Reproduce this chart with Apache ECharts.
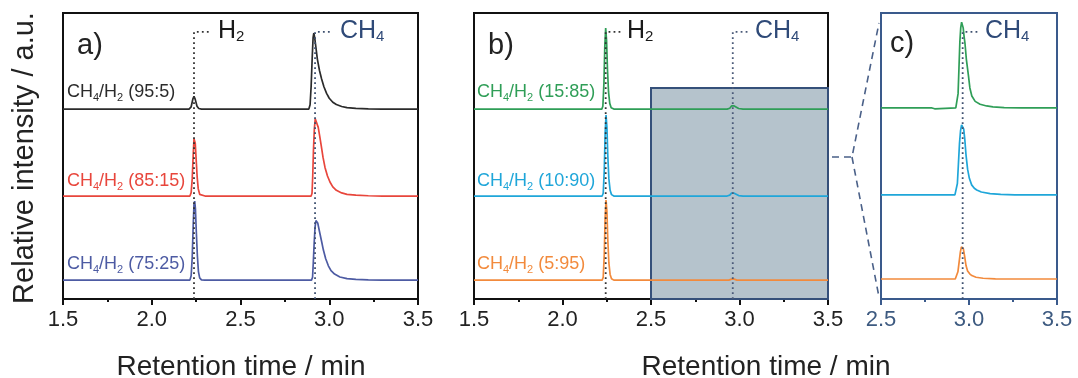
<!DOCTYPE html>
<html><head><meta charset="utf-8">
<script src="https://cdn.jsdelivr.net/npm/echarts@6/dist/echarts.min.js"></script>
<style>html,body{margin:0;padding:0;background:#fff}#c{width:1078px;height:378px}</style>
</head><body><div id="c"></div>
<script>
// ---------- DATA ----------
const xTicksAB = [1.5, 2.0, 2.5, 3.0, 3.5];
const xTicksC = [2.5, 3.0, 3.5];
const ratiosA = ['95:5', '85:15', '75:25'];
const ratiosB = ['15:85', '10:90', '5:95'];
const h2Times = [2.238, 2.244];          // panel a, b
const ch4Times = [2.92, 2.962, 2.964];   // panel a, b, c
const zoomWindow = [2.5, 3.5];

// Panel a  (retention time, relative intensity)
const trA_95_5 = [[1.5,0],[2.21,0],[2.222,0.8],[2.232,3.6],[2.238,4.5],[2.245,3.4],[2.255,1.0],[2.265,0.2],[2.28,0],
  [2.885,0],[2.892,1.5],[2.898,8],[2.904,18],[2.909,25],[2.913,26.6],[2.918,25],[2.925,21.5],[2.933,17.5],[2.945,13.5],
  [2.957,10.5],[2.97,7.8],[2.985,5.5],[3.0,3.8],[3.02,2.4],[3.04,1.6],[3.07,0.9],[3.1,0.5],[3.15,0.25],[3.22,0.1],[3.3,0],[3.5,0]];
const trA_85_15 = [[1.5,0],[2.215,0],[2.222,1.2],[2.228,6],[2.234,15],[2.238,20],[2.241,20.6],[2.245,18.5],[2.25,13],[2.256,6.5],
  [2.262,2.5],[2.27,0.6],[2.28,0.1],[2.3,0],
  [2.898,0],[2.903,1],[2.907,7],[2.911,16],[2.916,23.5],[2.921,27],[2.925,27.3],[2.93,26.4],[2.938,24],[2.946,21],[2.955,17.5],
  [2.965,13.5],[2.976,10],[2.99,7],[3.004,4.9],[3.02,3.2],[3.04,2.0],[3.07,1.1],[3.1,0.6],[3.15,0.3],[3.22,0.1],[3.3,0],[3.5,0]];
const trA_75_25 = [[1.5,0],[2.215,0],[2.222,1.5],[2.228,8],[2.234,20],[2.238,26.5],[2.242,27.6],[2.246,25],[2.251,17],[2.257,8.5],
  [2.263,3],[2.27,0.8],[2.28,0.1],[2.3,0],
  [2.9,0],[2.906,1],[2.91,6],[2.915,13],[2.92,18.5],[2.925,20.8],[2.929,21],[2.935,20],[2.945,17],[2.957,13.5],[2.967,10.5],
  [2.98,7.5],[2.995,5],[3.01,3.3],[3.03,2.1],[3.06,1.1],[3.1,0.5],[3.15,0.25],[3.22,0.1],[3.3,0],[3.5,0]];

// Panel b
const trB_15_85 = [[1.5,0],[2.222,0],[2.228,1],[2.234,9],[2.239,22],[2.244,28.3],[2.249,24],[2.254,14],[2.26,6],[2.267,2],[2.275,0.5],[2.29,0],
  [2.93,0],[2.945,0.3],[2.955,1.1],[2.962,1.4],[2.97,1.1],[2.98,0.6],[2.995,0.2],[3.02,0],[3.5,0]];
const trB_10_90 = [[1.5,0],[2.224,0],[2.23,1],[2.236,9],[2.241,22],[2.246,28.3],[2.251,24],[2.256,14],[2.262,6],[2.269,2],[2.277,0.5],[2.29,0],
  [2.93,0],[2.945,0.3],[2.955,1.0],[2.962,1.3],[2.97,1.0],[2.98,0.5],[2.995,0.15],[3.02,0],[3.5,0]];
const trB_5_95 = [[1.5,0],[2.224,0],[2.23,1],[2.236,9],[2.241,22],[2.246,28],[2.251,24],[2.256,14],[2.262,6],[2.269,2],[2.277,0.5],[2.29,0],
  [2.94,0],[2.955,0.35],[2.962,0.5],[2.97,0.35],[2.985,0],[3.5,0]];

// Panel c (zoom 2.5 - 3.5)
const trC_15_85 = [[2.5,0],[2.725,0],[2.73,0.6],[2.735,0],[2.79,0],[2.797,-0.5],[2.805,-0.3],[2.81,0],
  [2.925,0],[2.932,0.5],[2.938,5],[2.943,14],[2.948,23],[2.953,28],[2.958,30],[2.962,30.4],[2.967,28],[2.972,25],[2.977,22.7],
  [2.985,17],[2.997,11.2],[3.005,7],[3.016,4.2],[3.035,2.3],[3.063,1.3],[3.1,0.7],[3.136,0.35],[3.2,0.1],[3.3,0],[3.5,0]];
const trC_10_90 = [[2.5,0],[2.92,0],[2.928,0.5],[2.934,4],[2.94,11],[2.946,18],[2.952,22.5],[2.958,24.5],[2.965,25.1],[2.97,23],
  [2.976,19.5],[2.983,14],[2.992,9],[3.002,5.8],[3.015,3.5],[3.03,2.3],[3.044,1.7],[3.07,1.0],[3.12,0.45],[3.18,0.15],[3.26,0],[3.5,0]];
const trC_5_95 = [[2.5,0],[2.922,0],[2.93,0.5],[2.937,2.5],[2.944,6],[2.951,9.5],[2.957,11.2],[2.962,11.6],[2.968,10.5],[2.975,8],
  [2.983,4.7],[2.992,2.8],[3.004,1.8],[3.016,1.2],[3.04,0.6],[3.08,0.25],[3.15,0.05],[3.2,0],[3.5,0]];

// ---------- LAYOUT / STYLE ----------
const FONT = "'Liberation Sans', Arial, Helvetica, sans-serif";
const offsAB = [66.4, 36.0, 6.6];
const offsC = [66.8, 36.4, 7.0];
const markTop = 93.4;
const colA = ['#2b2b2b', '#e8463c', '#4d5ba3'];
const colB = ['#2f9e57', '#1fa6d9', '#f28a3c'];
const navy = '#2f4a78';
const cFrame = '#3a5a8c';

const grids = [
  {left: 63, top: 13, width: 355, height: 286},
  {left: 474, top: 13, width: 354, height: 286},
  {left: 881, top: 13, width: 176, height: 286}
];

function xAxisFor(i, min, max, color, labelColor) {
  return {
    type: 'value', gridIndex: i, min: min, max: max, interval: 0.5,
    axisLine: {show: true, onZero: false, lineStyle: {color: color, width: 2}},
    axisTick: {show: true, length: 6, lineStyle: {color: color, width: 2}},
    minorTick: {show: true, splitNumber: 2, length: 3, lineStyle: {color: color, width: 2}},
    splitLine: {show: false}, minorSplitLine: {show: false},
    axisLabel: {fontFamily: FONT, fontSize: 22, color: labelColor, margin: 10,
      formatter: v => v.toFixed(1), showMinLabel: true, showMaxLabel: true}
  };
}
function yAxisFor(i) {
  return {type: 'value', gridIndex: i, min: 0, max: 100, show: false};
}
function trace(data, off, color, gi) {
  return {type: 'line', xAxisIndex: gi, yAxisIndex: gi, data: data.map(p => [p[0], p[1] + off]),
    showSymbol: false, symbol: 'none', lineStyle: {color: color, width: 1.7}, z: 3, silent: true};
}
function marker(t, dx, color, gi) {
  return {type: 'line', xAxisIndex: gi, yAxisIndex: gi, data: [[t, 0], [t, markTop], [t + dx, markTop]],
    showSymbol: false, symbol: 'none', lineStyle: {color: color, width: 1.8, type: [1.8, 3.2]}, z: 4, silent: true};
}
function chemLabel(x, y, main, sub, color, size, subSize) {
  return {type: 'text', left: x, top: y - size * 0.55, z: 10,
    style: {text: `{m|${main}}{s|${sub}}`, rich: {
      m: {fontFamily: FONT, fontSize: size, fill: color, color: color, lineHeight: size * 1.1},
      s: {fontFamily: FONT, fontSize: subSize, fill: color, color: color, lineHeight: subSize, verticalAlign: 'bottom'}
    }}};
}
function mixLabel(x, y, ratio, color) {
  return {type: 'text', left: x, top: y - 11, z: 10,
    style: {text: `{m|CH}{s|4}{m|/H}{s|2}{m| (${ratio})}`, rich: {
      m: {fontFamily: FONT, fontSize: 18, fill: color, color: color, lineHeight: 22},
      s: {fontFamily: FONT, fontSize: 11, fill: color, color: color, lineHeight: 11, verticalAlign: 'bottom'}
    }}};
}

const series = [];
[trA_95_5, trA_85_15, trA_75_25].forEach((d, k) => series.push(trace(d, offsAB[k], colA[k], 0)));
[trB_15_85, trB_10_90, trB_5_95].forEach((d, k) => series.push(trace(d, offsAB[k], colB[k], 1)));
[trC_15_85, trC_10_90, trC_5_95].forEach((d, k) => series.push(trace(d, offsC[k], colB[k], 2)));
series.push(marker(h2Times[0], 0.095, '#333', 0));
series.push(marker(ch4Times[0], 0.1, '#3d4f6e', 0));
series.push(marker(h2Times[1], 0.095, '#333', 1));
series.push(marker(ch4Times[1], 0.095, '#4a5a78', 1));
series.push(marker(ch4Times[2], 0.1, '#3d4f6e', 2));
// zoom window rectangle in panel b
series.push({
  type: 'custom', xAxisIndex: 1, yAxisIndex: 1, z: 1, silent: true,
  data: [[zoomWindow[0], zoomWindow[1], 73.8]],
  encode: {x: [0, 1], y: 2},
  renderItem: function (params, api) {
    const p0 = api.coord([api.value(0), api.value(2)]);
    const p1 = api.coord([api.value(1), 0]);
    return {type: 'rect', shape: {x: p0[0], y: p0[1], width: p1[0] - p0[0], height: p1[1] - p0[1]},
      style: {fill: '#b5c3cc', stroke: '#35507a', lineWidth: 2}};
  }
});

const graphic = [
  {type: 'text', left: 77, top: 48 - 17, z: 10, style: {text: 'a)', fontFamily: FONT, fontSize: 29, fill: '#222'}},
  {type: 'text', left: 488, top: 48 - 17, z: 10, style: {text: 'b)', fontFamily: FONT, fontSize: 29, fill: '#222'}},
  {type: 'text', left: 890, top: 46 - 17, z: 10, style: {text: 'c)', fontFamily: FONT, fontSize: 29, fill: '#222'}},
  chemLabel(218, 32, 'H', '2', '#1a1a1a', 25, 15),
  chemLabel(340, 32, 'CH', '4', navy, 25, 15),
  chemLabel(627, 32, 'H', '2', '#1a1a1a', 25, 15),
  chemLabel(755, 32, 'CH', '4', navy, 25, 15),
  chemLabel(985, 32, 'CH', '4', navy, 25, 15),
  mixLabel(67, 94, ratiosA[0], colA[0]),
  mixLabel(67, 183, ratiosA[1], colA[1]),
  mixLabel(67, 266, ratiosA[2], colA[2]),
  mixLabel(477, 94, ratiosB[0], colB[0]),
  mixLabel(477, 183, ratiosB[1], colB[1]),
  mixLabel(477, 266, ratiosB[2], colB[2]),
  {type: 'text', x: 25, y: 158, rotation: Math.PI / 2, z: 10,
    style: {text: 'Relative intensity / a.u.', fontFamily: FONT, fontSize: 29, fill: '#222', textAlign: 'center', textVerticalAlign: 'middle'}},
  {type: 'text', x: 241, y: 367, z: 10,
    style: {text: 'Retention time / min', fontFamily: FONT, fontSize: 28, fill: '#222', textAlign: 'center', textVerticalAlign: 'middle'}},
  {type: 'text', x: 766, y: 367, z: 10,
    style: {text: 'Retention time / min', fontFamily: FONT, fontSize: 28, fill: '#222', textAlign: 'center', textVerticalAlign: 'middle'}},
  {type: 'polyline', z: 10, shape: {points: [[832, 157], [852, 157], [879, 23]]},
    style: {stroke: '#4a6088', lineWidth: 1.6, lineDash: [7, 5], fill: null}},
  {type: 'polyline', z: 10, shape: {points: [[852, 157], [879, 297]]},
    style: {stroke: '#4a6088', lineWidth: 1.6, lineDash: [7, 5], fill: null}}
];

const option = {
  animation: false,
  backgroundColor: '#fff',
  grid: grids.map((g, i) => Object.assign({show: true, borderWidth: 2, borderColor: i === 2 ? cFrame : '#111', backgroundColor: 'transparent'}, g)),
  xAxis: [
    xAxisFor(0, xTicksAB[0], xTicksAB[xTicksAB.length - 1], '#111', '#222'),
    xAxisFor(1, xTicksAB[0], xTicksAB[xTicksAB.length - 1], '#111', '#222'),
    xAxisFor(2, xTicksC[0], xTicksC[xTicksC.length - 1], cFrame, '#3d5a80')
  ],
  yAxis: [yAxisFor(0), yAxisFor(1), yAxisFor(2)],
  series: series,
  graphic: graphic
};
const chart = echarts.init(document.getElementById('c'), null, {renderer: 'canvas'});
chart.setOption(option);
</script>
</body></html>
